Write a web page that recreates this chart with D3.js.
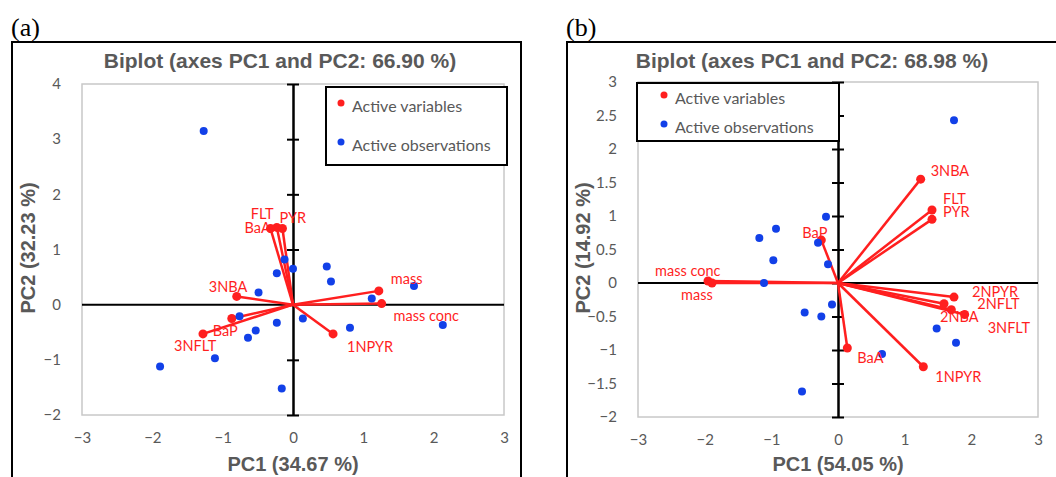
<!DOCTYPE html>
<html>
<head>
<meta charset="utf-8">
<script src="https://cdn.jsdelivr.net/npm/d3@7"></script>
<style>
  body { margin: 0; background: #fff; }
  svg { display: block; }
</style>
</head>
<body>
<div id="chart"></div>
<script>
const WIDTH = 1056
const HEIGHT = 477

// panel (a)
const varNamesA = ['FLT', 'PYR', 'BaA', 'mass', 'mass conc', '3NBA', 'BaP', '3NFLT', '1NPYR']
const varPC1A = [-0.23, -0.15, -0.32, 1.22, 1.26, -0.80, -0.87, -1.28, 0.57]
const varPC2A = [1.40, 1.38, 1.38, 0.25, 0.02, 0.15, -0.25, -0.53, -0.53]
const obsPC1A = [-1.27, -0.12, -0.23, 0.00, 0.48, 0.54, 1.72, -0.49, 1.12, -0.76, -0.23, 0.14, -0.53, -0.64, 0.81, 2.13, -1.11, -1.89, -0.16]
const obsPC2A = [3.15, 0.82, 0.57, 0.65, 0.69, 0.42, 0.34, 0.22, 0.11, -0.21, -0.33, -0.25, -0.47, -0.60, -0.42, -0.37, -0.97, -1.12, -1.52]
const xTicksA = [-3, -2, -1, 0, 1, 2, 3]
const yTicksA = [-2, -1, 0, 1, 2, 3, 4]

// panel (b)
const varNamesB = ['3NBA', 'FLT', 'PYR', 'BaP', 'mass conc', 'mass', '2NPYR', '2NFLT', '2NBA', '3NFLT', 'BaA', '1NPYR']
const varPC1B = [1.24, 1.41, 1.41, -0.25, -1.95, -1.89, 1.74, 1.70, 1.59, 1.90, 0.14, 1.28]
const varPC2B = [1.55, 1.09, 0.95, 0.64, 0.03, 0.00, -0.21, -0.40, -0.31, -0.47, -0.97, -1.25]
const obsPC1B = [1.74, -0.18, -0.93, -1.18, -0.30, -0.97, -0.15, -1.11, -0.09, -0.50, -0.25, 1.48, 1.77, 0.66, -0.54]
const obsPC2B = [2.43, 0.99, 0.81, 0.67, 0.60, 0.34, 0.28, 0.00, -0.32, -0.44, -0.50, -0.68, -0.89, -1.06, -1.62]
const xTicksB = [-3, -2, -1, 0, 1, 2, 3]
const yTicksB = [-2, -1.5, -1, -0.5, 0, 0.5, 1, 1.5, 2, 2.5, 3]

// label nudges in pixels, away from the arrow tips
const labelOffsetA = {
  'FLT': [-26, -14], 'PYR': [-3, -11], 'BaA': [-26, -1], 'mass': [12, -12],
  'mass conc': [12, 12], '3NBA': [-28, -10], 'BaP': [-19, 12], '3NFLT': [-29, 12], '1NPYR': [14, 13]
}
const labelOffsetB = {
  '3NBA': [10, -9], 'FLT': [11, -11], 'PYR': [11, -8], 'BaP': [-19, -8], 'mass conc': [-53, -10],
  'mass': [-31, 11], '2NPYR': [18, -6], '2NFLT': [26, -6], '2NBA': [-4, 13], '3NFLT': [23, 13],
  'BaA': [10, 10], '1NPYR': [12, 10]
}

const GREY = '#595959'
const RED = '#ff1f1f'
const BLUE = '#1240e8'
const LABEL_FONT = 'Lato, "Open Sans", sans-serif'
const BOLD_FONT = '"Liberation Sans", Arial, sans-serif'

const svg = d3.select('#chart')
  .append('svg')
    .attr('width', WIDTH)
    .attr('height', HEIGHT)

function drawPanel(p) {
  const g = svg.append('g')

  // outer frame + letter
  g.append('rect')
    .attr('x', p.frame[0]).attr('y', p.frame[1])
    .attr('width', p.frame[2]).attr('height', p.frame[3])
    .attr('fill', 'none').attr('stroke', '#000').attr('stroke-width', 2)
  g.append('text')
    .attr('x', p.frame[0] - 1).attr('y', 36)
    .attr('font-family', '"Liberation Serif", "Times New Roman", serif')
    .attr('font-size', 26)
    .text(p.letter)

  const x = d3.scaleLinear().domain([-3, 3]).range(p.xRange)
  const y = d3.scaleLinear().domain(p.yDomain).range(p.yRange)

  // plot border
  g.append('rect')
    .attr('x', p.xRange[0]).attr('y', p.yRange[1])
    .attr('width', p.xRange[1] - p.xRange[0])
    .attr('height', p.yRange[0] - p.yRange[1])
    .attr('fill', 'none').attr('stroke', '#c8c8c8').attr('stroke-width', 1.5)

  // tick labels
  const yLabels = g.append('g')
    .attr('transform', `translate(${p.xRange[0] - 18}, 0)`)
    .call(d3.axisLeft(y).tickValues(p.yTicks).tickSize(0).tickFormat(d3.format('')))
  const xLabels = g.append('g')
    .attr('transform', `translate(0, ${p.yRange[0] + 14})`)
    .call(d3.axisBottom(x).tickValues(p.xTicks).tickSize(0).tickFormat(d3.format('')))
  ;[yLabels, xLabels].forEach(a => {
    a.select('.domain').remove()
    a.selectAll('text')
      .attr('fill', GREY)
      .attr('font-family', LABEL_FONT)
      .attr('font-size', 15)
  })

  // central axes
  g.append('line')
    .attr('x1', p.xRange[0]).attr('x2', p.xRange[1])
    .attr('y1', y(0)).attr('y2', y(0))
    .attr('stroke', '#000').attr('stroke-width', 2)
  ;[d3.axisLeft(y), d3.axisRight(y)].forEach(ax => {
    const a = g.append('g')
      .attr('transform', `translate(${x(0)}, 0)`)
      .call(ax.tickValues(p.yTicks).tickSize(6).tickSizeOuter(0).tickFormat(''))
    a.select('.domain').attr('stroke', '#000').attr('stroke-width', 2)
    a.selectAll('.tick line').attr('stroke', '#000').attr('stroke-width', 2)
  })

  // variable arrows
  const vars = p.names.map((name, i) => ({ name, pc1: p.varPC1[i], pc2: p.varPC2[i] }))
  g.selectAll('line.var')
    .data(vars)
    .join('line')
      .attr('class', 'var')
      .attr('x1', x(0)).attr('y1', y(0))
      .attr('x2', d => x(d.pc1)).attr('y2', d => y(d.pc2))
      .attr('stroke', RED).attr('stroke-width', 2.5)
  g.selectAll('circle.var')
    .data(vars)
    .join('circle')
      .attr('class', 'var')
      .attr('cx', d => x(d.pc1)).attr('cy', d => y(d.pc2))
      .attr('r', 4.5).attr('fill', RED)

  // observations
  const obs = p.obsPC1.map((pc1, i) => ({ pc1, pc2: p.obsPC2[i] }))
  g.selectAll('circle.obs')
    .data(obs)
    .join('circle')
      .attr('class', 'obs')
      .attr('cx', d => x(d.pc1)).attr('cy', d => y(d.pc2))
      .attr('r', 4).attr('fill', BLUE)

  g.selectAll('text.var')
    .data(vars)
    .join('text')
      .attr('class', 'var')
      .attr('x', d => x(d.pc1) + p.offsets[d.name][0])
      .attr('y', d => y(d.pc2) + p.offsets[d.name][1])
      .attr('dominant-baseline', 'central')
      .attr('fill', RED)
      .attr('font-family', LABEL_FONT)
      .attr('font-size', 14.5)
      .text(d => d.name)

  // titles
  g.append('text')
    .attr('x', p.titleX).attr('y', 68)
    .attr('text-anchor', 'middle')
    .attr('fill', GREY).attr('font-family', BOLD_FONT)
    .attr('font-weight', 'bold').attr('font-size', 21)
    .text(p.title)
  g.append('text')
    .attr('x', x(0)).attr('y', 471)
    .attr('text-anchor', 'middle')
    .attr('fill', GREY).attr('font-family', BOLD_FONT)
    .attr('font-weight', 'bold').attr('font-size', 20)
    .text(p.xTitle)
  g.append('text')
    .attr('transform', `translate(${p.yTitleX}, 248) rotate(-90)`)
    .attr('text-anchor', 'middle')
    .attr('dominant-baseline', 'central')
    .attr('fill', GREY).attr('font-family', BOLD_FONT)
    .attr('font-weight', 'bold').attr('font-size', 20)
    .text(p.yTitle)

  // legend
  const lg = g.append('g').attr('transform', `translate(${p.legend[0]}, ${p.legend[1]})`)
  lg.append('rect')
    .attr('width', p.legend[2]).attr('height', p.legend[3])
    .attr('fill', '#fff').attr('stroke', '#000').attr('stroke-width', 2)
  const items = [['Active variables', RED], ['Active observations', BLUE]]
  items.forEach(([label, colour], i) => {
    const ly = p.legendRows[i]
    lg.append('circle').attr('cx', p.legendDotX).attr('cy', ly - 2).attr('r', 3.5).attr('fill', colour)
    lg.append('text')
      .attr('x', p.legendDotX + 11).attr('y', ly)
      .attr('dominant-baseline', 'central')
      .attr('fill', GREY).attr('font-family', LABEL_FONT).attr('font-size', 16)
      .text(label)
  })
}

drawPanel({
  letter: '(a)', frame: [12, 42, 509, 460],
  xRange: [82, 504], yRange: [415, 84], yDomain: [-2, 4],
  xTicks: xTicksA, yTicks: yTicksA,
  names: varNamesA, varPC1: varPC1A, varPC2: varPC2A,
  obsPC1: obsPC1A, obsPC2: obsPC2A, offsets: labelOffsetA,
  title: 'Biplot (axes PC1 and PC2: 66.90 %)', titleX: 280,
  xTitle: 'PC1 (34.67 %)', yTitle: 'PC2 (32.23 %)', yTitleX: 28,
  legend: [326, 87, 181, 78], legendDotX: 15, legendRows: [18, 57]
})

drawPanel({
  letter: '(b)', frame: [567, 42, 520, 460],
  xRange: [638, 1038], yRange: [417, 82], yDomain: [-2, 3],
  xTicks: xTicksB, yTicks: yTicksB,
  names: varNamesB, varPC1: varPC1B, varPC2: varPC2B,
  obsPC1: obsPC1B, obsPC2: obsPC2B, offsets: labelOffsetB,
  title: 'Biplot (axes PC1 and PC2: 68.98 %)', titleX: 812,
  xTitle: 'PC1 (54.05 %)', yTitle: 'PC2 (14.92 %)', yTitleX: 583,
  legend: [637, 83, 202, 58], legendDotX: 27, legendRows: [14, 43]
})
</script>
</body>
</html>
